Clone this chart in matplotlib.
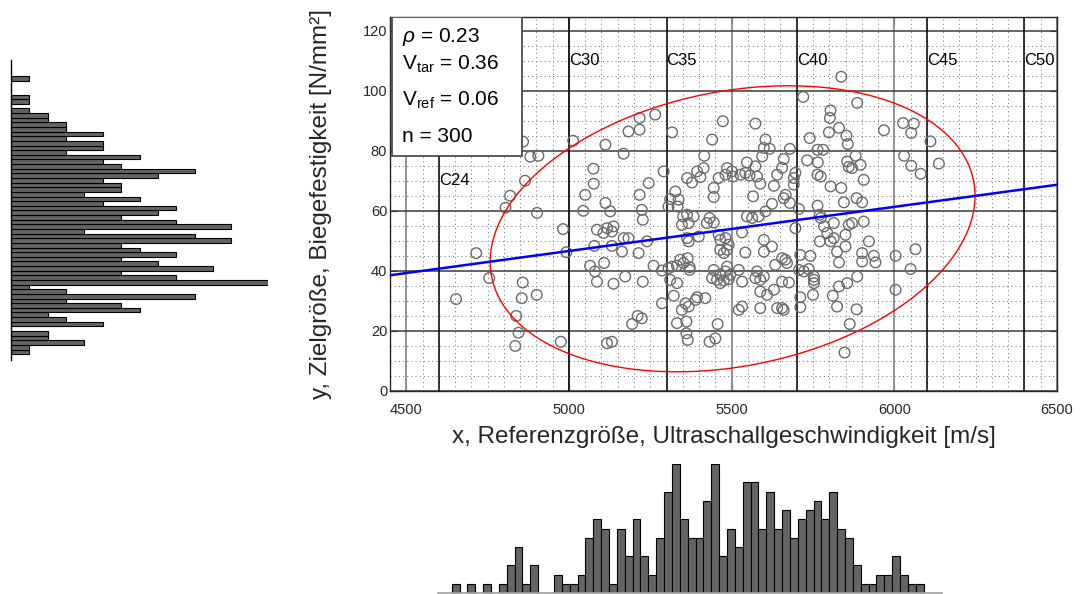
import numpy as np
import matplotlib
matplotlib.use('Agg')
import matplotlib.pyplot as plt
from matplotlib.patches import Rectangle

plt.rcParams['font.family'] = ['Liberation Sans', 'DejaVu Sans']
plt.rcParams['mathtext.fontset'] = 'custom'
plt.rcParams['mathtext.rm'] = 'Liberation Sans'
plt.rcParams['mathtext.it'] = 'Liberation Sans:italic'

# ---------------- data ----------------
x_vals = [
    4859, 4881, 4906, 5013, 5075, 4865, 5076, 4819, 5050, 4805, 4902, 5044,
    5112, 5168, 5183, 5217, 5217, 5265, 5317, 5291, 5245, 5217,
    5112, 5127, 5224, 5473, 5573, 5440, 5416, 5604, 5599, 5617,
    5594, 5414, 5394, 5404, 5363, 5378, 5486, 5501, 5481, 5504,
    5460, 5527, 5547, 5573, 5542, 5555, 5578, 5588, 5445, 5445,
    5327, 5311, 5337, 5306, 5334, 5566, 5630, 5640, 5624, 5604,
    5837, 5720, 5886, 5804, 5802, 5830, 5799, 5740, 5853, 5857,
    5968, 6027, 6060, 6052, 6111, 5679, 5764, 5781, 5660, 5732,
    5765, 5881, 5855, 5896, 5860, 5870, 6030, 6052, 6081, 6137,
    5696, 5691, 5691, 5764, 5774, 5906, 5804, 5837, 5666, 5660,
    5679, 5707, 5764, 5845, 5884, 5901, 5655,
    4982, 5086, 4715, 4992, 5078, 5065, 5080, 5086, 4755, 4858,
    4653, 4855, 4901, 4838, 4845, 4835, 4975,
    5227, 5117, 5137, 5132, 5106, 5168, 5183, 5132, 5163, 5214,
    5240, 5108, 5173, 5137, 5227, 5260, 5286, 5306, 5317, 5332,
    5342, 5365, 5371, 5371, 5352, 5311, 5332, 5286, 5322, 5358,
    5368, 5347, 5394, 5389, 5419, 5332, 5361, 5361, 5365, 5194,
    5211, 5224, 5117, 5132, 5432, 5450, 5457, 5424, 5445, 5432,
    5351, 5363, 5383, 5347, 5368, 5399, 5363, 5368, 5460, 5465,
    5481, 5491, 5465, 5486, 5476, 5532, 5542, 5599, 5624, 5599,
    5547, 5563, 5583,
    5486, 5481, 5496, 5445, 5465, 5440, 5455, 5476, 5491, 5465,
    5522, 5532, 5578, 5599, 5573, 5588, 5634, 5588, 5609, 5630,
    5522, 5532, 5588, 5640,
    5771, 5774, 5696, 5784, 5814, 5794, 5814, 5804, 5860, 5870,
    5906, 5850, 5771, 5850, 5824, 5922, 5711, 5742, 5901, 5901,
    5937, 5942, 5830, 6004, 6065, 6050, 5665, 5670, 5655, 5707,
    5722, 5737, 5753, 5753, 5753, 5676, 5655, 5830, 5855, 5886,
    6004, 5711, 5750, 5811, 5824, 5884, 5711, 5660, 5863, 5847, 5655,
]
y_vals = [
    83.0, 78.0, 78.3, 83.3, 74.0, 70.0, 69.0, 65.0, 65.3, 61.0, 59.3, 60.0,
    82.0, 79.0, 86.4, 87.0, 90.9, 92.0, 86.1, 73.1, 69.2, 65.3,
    62.6, 59.8, 60.3, 89.8, 89.0, 83.7, 78.3, 83.7, 80.9, 80.6,
    78.1, 74.2, 73.1, 71.2, 70.9, 69.4, 74.2, 73.1, 72.0, 71.4,
    70.9, 72.0, 76.1, 74.8, 72.6, 71.7, 71.4, 69.0, 67.6, 64.6,
    66.4, 63.9, 63.7, 61.4, 61.4, 64.8, 68.3, 72.0, 62.3, 59.8,
    104.6, 97.9, 95.9, 93.4, 90.9, 87.6, 86.1, 84.2, 85.0, 82.2,
    86.8, 89.2, 89.0, 85.9, 83.1, 80.6, 80.3, 80.3, 77.2, 76.8,
    76.1, 78.3, 76.4, 75.3, 74.6, 74.2, 78.3, 75.0, 72.3, 75.7,
    72.6, 70.9, 68.7, 72.0, 71.4, 70.3, 68.1, 67.6, 65.3, 64.2,
    62.6, 60.6, 61.7, 62.8, 64.2, 62.8, 74.3,
    53.9, 53.7, 45.9, 46.2, 48.3, 41.7, 39.8, 36.4, 37.6, 36.1,
    30.6, 30.9, 32.0, 25.0, 19.4, 15.0, 16.4,
    57.0, 54.2, 54.8, 53.1, 52.6, 50.9, 50.9, 48.3, 46.4, 45.9,
    49.8, 42.6, 38.1, 35.7, 36.4, 41.7, 40.1, 40.9, 41.4, 41.7,
    43.7, 44.2, 41.2, 40.3, 42.6, 37.0, 35.9, 29.2, 31.7, 29.2,
    28.1, 27.0, 31.2, 30.3, 30.9, 22.6, 23.1, 19.2, 17.0, 22.3,
    25.0, 24.2, 15.9, 16.4, 16.4, 17.5, 22.3, 55.9, 56.1, 57.6,
    58.1, 58.7, 58.1, 55.3, 55.9, 51.4, 50.9, 49.8, 52.0, 50.3,
    50.9, 48.7, 47.0, 47.0, 45.9, 52.8, 46.1, 50.3, 48.1, 46.4,
    58.1, 57.6, 58.1,
    41.4, 39.8, 38.7, 40.3, 38.7, 37.6, 37.0, 36.8, 37.2, 35.9,
    40.3, 36.4, 39.8, 38.1, 37.6, 37.0, 42.0, 33.1, 32.0, 33.7,
    27.0, 28.1, 27.6, 27.6,
    58.7, 57.6, 54.2, 54.8, 55.9, 52.6, 50.9, 49.8, 55.3, 55.9,
    56.4, 52.0, 49.8, 48.1, 46.4, 49.8, 45.3, 45.0, 45.9, 43.1,
    45.0, 42.8, 42.8, 45.0, 47.2, 40.6, 43.7, 42.6, 44.2, 40.3,
    39.8, 40.6, 38.1, 37.0, 35.9, 36.1, 36.4, 34.8, 35.9, 38.1,
    33.7, 31.2, 32.0, 31.7, 28.1, 27.2, 27.9, 27.0, 22.3, 12.8, 27.6,
]

# marginal histogram counts (60 bins each, from min to max of the data)
hist_x_counts = [1, 0, 1, 0, 1, 0, 1, 3, 5, 1, 3, 0, 0, 2, 1, 1, 2, 6, 8, 7,
                 1, 7, 4, 8, 4, 2, 6, 11, 14, 8, 6, 6, 10, 14, 4, 7, 5, 12, 12, 7,
                 11, 7, 9, 6, 8, 9, 10, 8, 11, 7, 6, 3, 1, 1, 2, 2, 4, 2, 1, 1]
hist_y_counts = [1, 1, 4, 2, 2, 0, 5, 3, 2, 7, 6, 3, 10, 3, 1, 14, 9, 6, 11, 8,
                 6, 9, 7, 6, 12, 10, 4, 12, 9, 6, 8, 9, 5, 7, 4, 6, 6, 5, 8, 10,
                 6, 5, 7, 3, 5, 5, 3, 5, 3, 3, 2, 2, 1, 0, 1, 1, 0, 0, 0, 1]

# summary statistics shown in the chart
mean_x, mean_y = 5503.0, 54.0
sd_x, sd_y = 304.4, 19.45
rho = 0.23
v_tar = 0.36
v_ref = 0.06
n_points = 300
conf_level = 0.95

# strength classes
class_names = ['C24', 'C30', 'C35', 'C40', 'C45', 'C50']
class_x = [4600, 5000, 5300, 5700, 6100, 6400]
class_label_y = [70, 110, 110, 110, 110, 110]

x_ticks = [4500, 5000, 5500, 6000, 6500]
y_ticks = [0, 20, 40, 60, 80, 100, 120]
x_lim = (4450, 6500)
y_lim = (0, 124.5)

# ---------------- figure ----------------
W, H = 1080, 594
fig = plt.figure(figsize=(W / 100, H / 100), dpi=100)

def fbox(x0, y0, x1, y1):
    return [x0 / W, (H - y1) / H, (x1 - x0) / W, (y1 - y0) / H]

ax = fig.add_axes(fbox(390, 17, 1057, 391))
ax.set_xlim(*x_lim)
ax.set_ylim(*y_lim)

axis_col = '#262626'
# minor dotted grid
ax.set_xticks(np.arange(x_lim[0], x_lim[1] + 1, 50), minor=True)
ax.set_yticks(np.arange(0, y_lim[1], 5), minor=True)
ax.grid(which='minor', linestyle=(0, (1, 3)), color='#7a7a7a', linewidth=0.75)
ax.set_axisbelow(True)
for xv in x_ticks:
    ax.axvline(xv, color='#8a8a8a', lw=1.3, zorder=1)
for yv in y_ticks:
    ax.axhline(yv, color='#3a3a3a', lw=1.1, zorder=1)
for name, cx, cy in zip(class_names, class_x, class_label_y):
    ax.axvline(cx, color='black', lw=1.1, zorder=1.5)
    ax.text(cx, cy, name, fontsize=12, ha='left', va='center', color='black', zorder=2)

# scatter
ax.scatter(x_vals, y_vals, s=58, facecolors='none', edgecolors='#6b6b6b',
           linewidths=1.0, zorder=3)

# confidence ellipse
k = np.sqrt(-2 * np.log(1 - conf_level))
t = np.linspace(0, 2 * np.pi, 400)
phi = np.arccos(rho)
ex = mean_x + k * sd_x * np.cos(t)
ey = mean_y + k * sd_y * np.cos(t - phi)
ax.plot(ex, ey, color='#ff0000', lw=1.0, zorder=4)

# regression line
lx = np.array(x_lim)
ly = mean_y + rho * sd_y / sd_x * (lx - mean_x)
ax.plot(lx, ly, color='#0000ff', lw=1.8, zorder=5)

ax.set_xticks(x_ticks)
ax.set_yticks(y_ticks)
ax.tick_params(which='major', direction='in', length=5, top=True, right=True,
               labelsize=10.5, colors=axis_col)
ax.tick_params(axis='x', which='major', pad=9)
ax.tick_params(axis='y', which='major', pad=2)
ax.tick_params(which='minor', length=0)
for sp in ax.spines.values():
    sp.set_color(axis_col)
    sp.set_linewidth(1.0)
ax.set_xlabel('x, Referenzgröße, Ultraschallgeschwindigkeit [m/s]', fontsize=17.5,
              color=axis_col, labelpad=6)
ax.set_ylabel('y, Zielgröße, Biegefestigkeit [N/mm²]', fontsize=17.5,
              color=axis_col, labelpad=22)

# statistics box
ax.add_patch(Rectangle((2 / 667, 1 - 139 / 374), 130 / 667, 139 / 374,
                       transform=ax.transAxes, facecolor='white',
                       edgecolor='#404040', lw=1.2, zorder=6))
stats_lines = [r'$\rho$ = %.2f' % rho,
               r'V$_{\mathrm{tar}}$ = %.2f' % v_tar,
               r'V$_{\mathrm{ref}}$ = %.2f' % v_ref,
               'n = %d' % n_points]
line_y = [36.7, 64, 100, 136]
for s, yy in zip(stats_lines, line_y):
    ax.text(12.5 / 667, 1 - (yy - 17) / 374, s, transform=ax.transAxes,
            fontsize=15, ha='left', va='center', color='black', zorder=7)

# left (y) marginal histogram
ymin, ymax = np.min(y_vals), np.max(y_vals)
y_edges = np.linspace(ymin, ymax, len(hist_y_counts) + 1)
ybw = y_edges[1] - y_edges[0]
axl = fig.add_axes(fbox(11, 60, 268, 360))
axl.barh(y_edges[:-1], hist_y_counts, height=ybw, align='edge',
         color='#646464', edgecolor='black', linewidth=0.8)
axl.set_xlim(0, max(hist_y_counts))
axl.set_ylim(ymin - 1.25 * ybw, ymax + 3.45 * ybw)
for side in ['top', 'right', 'bottom']:
    axl.spines[side].set_visible(False)
axl.spines['left'].set_color('black')
axl.spines['left'].set_linewidth(1.0)
axl.set_xticks([])
axl.set_yticks([])
axl.patch.set_alpha(0)

# bottom (x) marginal histogram
xmin, xmax = np.min(x_vals), np.max(x_vals)
x_edges = np.linspace(xmin, xmax, len(hist_x_counts) + 1)
xbw = x_edges[1] - x_edges[0]
axb = fig.add_axes(fbox(438, 464, 942, 593))
axb.bar(x_edges[:-1], hist_x_counts, width=xbw, align='edge',
        color='#646464', edgecolor='black', linewidth=0.8)
axb.set_ylim(0, max(hist_x_counts))
axb.set_xlim(xmin - 1.74 * xbw, xmax + 2.33 * xbw)
for side in ['top', 'right', 'left']:
    axb.spines[side].set_visible(False)
axb.spines['bottom'].set_color('#a0a0a0')
axb.spines['bottom'].set_linewidth(1.2)
axb.set_xticks([])
axb.set_yticks([])
axb.patch.set_alpha(0)

fig.savefig('out.png', dpi=100)
